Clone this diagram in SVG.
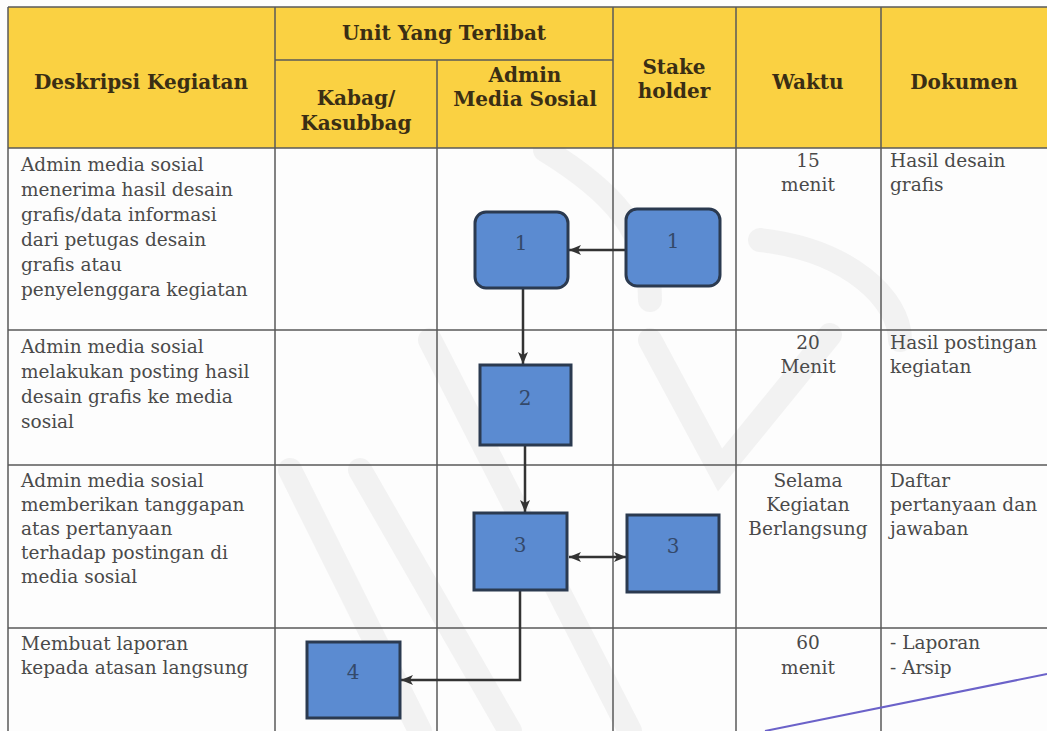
<svg xmlns="http://www.w3.org/2000/svg" width="1047" height="731" viewBox="0 0 1047 731">
<style>
.grid{stroke:#5a5a5a;stroke-width:1.5;fill:none}
.hd{font-family:"DejaVu Serif","Liberation Serif",serif;font-weight:bold;font-size:20px;fill:#3a2e14;text-anchor:middle}
.tx{font-family:"DejaVu Serif","Liberation Serif",serif;font-size:18.5px;fill:#4a4a4a}
.ctr{text-anchor:middle}
.box{fill:#5b8bd1;stroke:#2b3a50;stroke-width:3}
.bl{font-family:"DejaVu Serif","Liberation Serif",serif;font-size:20px;fill:#34496a;text-anchor:middle}
.wm{stroke:#dcdcdc;stroke-width:24;fill:none;stroke-linecap:round;opacity:0.3}
.con{stroke:#333;stroke-width:2.5;fill:none}
</style>
<defs>
<marker id="ah" viewBox="0 0 12 10" refX="12" refY="5" markerWidth="12" markerHeight="10" orient="auto-start-reverse" markerUnits="userSpaceOnUse">
<path d="M0,0 L12,5 L0,10 L3,5 z" fill="#333"/>
</marker>
</defs>
<rect width="1047" height="731" fill="#fdfdfd"/>
<g id="watermark">
<path class="wm" d="M430 340 L630 731"/>
<path class="wm" d="M290 470 L420 731"/>
<path class="wm" d="M360 470 L510 731"/>
<path class="wm" d="M650 340 L720 470 L830 335"/>
<path class="wm" d="M545 150 C610 190 650 230 650 300"/>
<path class="wm" d="M760 240 C850 250 900 300 900 340"/>
</g>
<g id="table">
<rect x="8" y="7" width="1039" height="141" fill="#fad142"/>
<path class="grid" d="M8 7 H1047 M275 60 H613 M8 148 H1047 M8 330 H1047 M8 465 H1047 M8 628 H1047"/>
<path class="grid" d="M8 7 V731 M275 7 V731 M437 60 V731 M613 7 V731 M736 7 V731 M881 7 V731"/>
</g>
<g id="header">
<text class="hd" x="444" y="40">Unit Yang Terlibat</text>
<text class="hd" x="141" y="89">Deskripsi Kegiatan</text>
<text class="hd" x="356" y="105">Kabag/</text>
<text class="hd" x="356" y="130">Kasubbag</text>
<text class="hd" x="525" y="82">Admin</text>
<text class="hd" x="525" y="106">Media Sosial</text>
<text class="hd" x="674" y="74">Stake</text>
<text class="hd" x="674" y="98">holder</text>
<text class="hd" x="808" y="89">Waktu</text>
<text class="hd" x="964" y="89">Dokumen</text>
</g>
<g id="row1">
<text class="tx" x="21" y="171">Admin media sosial</text>
<text class="tx" x="21" y="196">menerima hasil desain</text>
<text class="tx" x="21" y="221">grafis/data informasi</text>
<text class="tx" x="21" y="246">dari petugas desain</text>
<text class="tx" x="21" y="271">grafis atau</text>
<text class="tx" x="21" y="296">penyelenggara kegiatan</text>
<text class="tx ctr" x="808" y="167">15</text>
<text class="tx ctr" x="808" y="191">menit</text>
<text class="tx" x="890" y="167">Hasil desain</text>
<text class="tx" x="890" y="191">grafis</text>
</g>
<g id="row2">
<text class="tx" x="21" y="353">Admin media sosial</text>
<text class="tx" x="21" y="378">melakukan posting  hasil</text>
<text class="tx" x="21" y="403">desain grafis ke media</text>
<text class="tx" x="21" y="428">sosial</text>
<text class="tx ctr" x="808" y="349">20</text>
<text class="tx ctr" x="808" y="373">Menit</text>
<text class="tx" x="890" y="349">Hasil postingan</text>
<text class="tx" x="890" y="373">kegiatan</text>
</g>
<g id="row3">
<text class="tx" x="21" y="487">Admin media sosial</text>
<text class="tx" x="21" y="511">memberikan tanggapan</text>
<text class="tx" x="21" y="535">atas pertanyaan</text>
<text class="tx" x="21" y="559">terhadap postingan di</text>
<text class="tx" x="21" y="583">media sosial</text>
<text class="tx ctr" x="808" y="487">Selama</text>
<text class="tx ctr" x="808" y="511">Kegiatan</text>
<text class="tx ctr" x="808" y="535">Berlangsung</text>
<text class="tx" x="890" y="487">Daftar</text>
<text class="tx" x="890" y="511">pertanyaan dan</text>
<text class="tx" x="890" y="535">jawaban</text>
</g>
<g id="row4">
<text class="tx" x="21" y="650">Membuat laporan</text>
<text class="tx" x="21" y="674">kepada atasan langsung</text>
<text class="tx ctr" x="808" y="649">60</text>
<text class="tx ctr" x="808" y="674">menit</text>
<text class="tx" x="890" y="649">- Laporan</text>
<text class="tx" x="890" y="674">- Arsip</text>
</g>
<g id="connectors">
<path class="con" d="M626 250 L569 250" marker-end="url(#ah)"/>
<path class="con" d="M523 289 L523 364" marker-end="url(#ah)"/>
<path class="con" d="M525 446 L525 512" marker-end="url(#ah)"/>
<path class="con" d="M569 557 L626 557" marker-start="url(#ah)" marker-end="url(#ah)"/>
<path class="con" d="M520 591 L520 680 L401 680" marker-end="url(#ah)"/>
</g>
<g id="node-stakeholder-1">
<rect class="box" x="626" y="209" width="94" height="77" rx="11"/>
<text class="bl" x="673" y="248">1</text>
</g>
<g id="node-admin-1">
<rect class="box" x="475" y="212" width="93" height="76" rx="11"/>
<text class="bl" x="521" y="250">1</text>
</g>
<g id="node-admin-2">
<rect class="box" x="480" y="365" width="91" height="80"/>
<text class="bl" x="525" y="405">2</text>
</g>
<g id="node-admin-3">
<rect class="box" x="474" y="513" width="93" height="77"/>
<text class="bl" x="520" y="552">3</text>
</g>
<g id="node-stakeholder-3">
<rect class="box" x="627" y="515" width="92" height="77"/>
<text class="bl" x="673" y="553">3</text>
</g>
<g id="node-kabag-4">
<rect class="box" x="307" y="642" width="93" height="76"/>
<text class="bl" x="353" y="679">4</text>
</g>
<g id="stamp">
<path d="M765 731 L1047 674" stroke="#6b62c9" stroke-width="2" fill="none"/>
</g>
</svg>
